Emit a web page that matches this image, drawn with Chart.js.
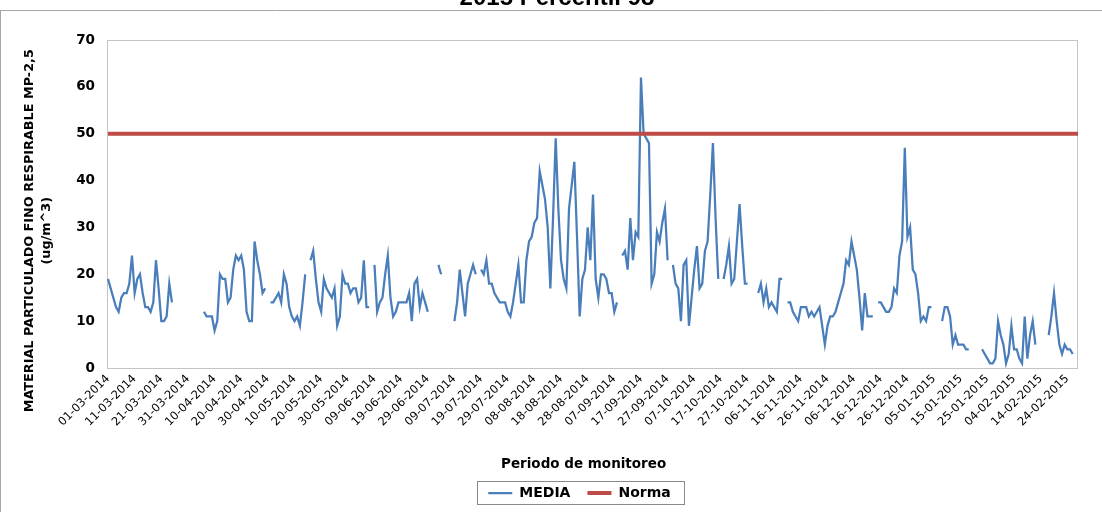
<!DOCTYPE html>
<html>
<head>
<meta charset="utf-8">
<script src="https://cdn.jsdelivr.net/npm/chart.js@4.4.1/dist/chart.umd.min.js"></script>
<style>
html, body { margin: 0; padding: 0; background: #ffffff; }
#wrap { position: relative; width: 1102px; height: 512px; overflow: hidden; background: #ffffff; }
#c { position: absolute; left: 0; top: -16px; }
</style>
</head>
<body>
<div id="wrap"><canvas id="c" width="1102" height="528"></canvas></div>
<script>
// ---- Data ----
const chartTitle = '2015 Percentil 98';
const firstDay = { year: 2014, month: 3, day: 1 };
const dayCount = 365;

// tick labels shown on the x axis (every 10th day)
const tickLabels = [
  '01-03-2014','11-03-2014','21-03-2014','31-03-2014','10-04-2014','20-04-2014','30-04-2014',
  '10-05-2014','20-05-2014','30-05-2014','09-06-2014','19-06-2014','29-06-2014','09-07-2014',
  '19-07-2014','29-07-2014','08-08-2014','18-08-2014','28-08-2014','07-09-2014','17-09-2014',
  '27-09-2014','07-10-2014','17-10-2014','27-10-2014','06-11-2014','16-11-2014','26-11-2014',
  '06-12-2014','16-12-2014','26-12-2014','05-01-2015','15-01-2015','25-01-2015','04-02-2015',
  '14-02-2015','24-02-2015'
];

// daily MEDIA values (null = no measurement), one row per 10 days
const media = [
  19,17,15,13,12,15,16,16,18,24,
  16,19,20,16,13,13,12,14,23,17,
  10,10,11,18,14,null,null,null,null,null,
  null,null,null,null,null,null,12,11,11,11,
  8,10,20,19,19,14,15,21,24,23,
  24,21,12,10,10,27,23,20,16,17,
  null,14,14,15,16,14,20,18,13,11,
  10,11,9,14,20,null,23,25,19,14,
  12,19,17,16,15,17,9,11,20,18,
  18,16,17,17,14,15,23,13,13,null,
  22,12,14,15,20,24,15,11,12,14,
  14,14,14,16,10,18,19,13,16,14,
  12,null,null,null,22,20,null,null,null,null,
  10,14,21,16,11,18,20,22,20,null,
  21,20,23,18,18,16,15,14,14,14,
  12,11,14,18,22,14,14,23,27,28,
  31,32,42,39,36,30,17,32,49,34,
  23,19,17,34,39,44,28,11,19,21,
  30,23,37,19,15,20,20,19,16,16,
  12,14,null,24,25,21,32,23,29,28,
  62,50,49,48,18,20,29,27,31,34,
  23,null,22,18,17,10,22,23,9,15,
  21,26,17,18,25,27,37,48,32,19,
  null,19,22,26,18,19,27,35,26,18,
  18,null,null,null,16,18,14,17,13,14,
  13,12,19,19,null,14,14,12,11,10,
  13,13,13,11,12,11,12,13,9,5,
  9,11,11,12,14,16,18,23,22,27,
  24,21,15,8,16,11,11,11,null,14,
  14,13,12,12,13,17,16,24,27,47,
  28,30,21,20,16,10,11,10,13,13,
  null,null,null,10,13,13,11,5,7,5,
  5,5,4,4,null,null,null,null,4,3,
  2,1,1,2,10,7,5,1,3,9,
  4,4,2,1,11,2,7,10,5,null,
  null,null,null,7,11,16,10,5,3,5,
  4,4,3,null,null
];

const normaValue = 50;

const yTitle = ['MATERIAL PARTICULADO FINO RESPIRABLE MP-2,5            ', '(ug/m^3)            '];
const xTitle = 'Periodo de monitoreo    ';

// ---- category labels: one per calendar day ----
function pad2(n) { return (n < 10 ? '0' : '') + n; }
const dates = [];
for (let i = 0; i < dayCount; i++) {
  const d = new Date(Date.UTC(firstDay.year, firstDay.month - 1, firstDay.day + i));
  dates.push(pad2(d.getUTCDate()) + '-' + pad2(d.getUTCMonth() + 1) + '-' + d.getUTCFullYear());
}

const FONT = "'DejaVu Sans', Verdana, sans-serif";
const SHIFT_Y = 16; // canvas is drawn 16px above the visible window

const framePlugin = {
  id: 'frames',
  afterLayout(chart) {
    const lg = chart.legend;
    if (lg) { lg.left += 33.5; lg.right += 33.5; lg.top -= 2; lg.bottom -= 2; }
    const tb = chart.titleBlock;
    if (tb) { tb.left += 11; tb.right += 11; }
  },
  beforeDraw(chart) {
    const ctx = chart.ctx;
    ctx.save();
    ctx.strokeStyle = '#a6a6a6';
    ctx.lineWidth = 1;
    ctx.beginPath();
    ctx.moveTo(0, SHIFT_Y + 10.5);
    ctx.lineTo(chart.width, SHIFT_Y + 10.5);
    ctx.moveTo(0.5, SHIFT_Y + 10);
    ctx.lineTo(0.5, chart.height);
    ctx.stroke();
    ctx.restore();
  },
  beforeDatasetsDraw(chart) {
    const {ctx, chartArea: a} = chart;
    ctx.save();
    ctx.strokeStyle = '#c4c4c4';
    ctx.lineWidth = 1;
    ctx.strokeRect(Math.round(a.left) - 0.5, Math.round(a.top) + 0.5, Math.round(a.right - a.left), Math.round(a.bottom - a.top));
    ctx.restore();
  },
  afterDraw(chart) {
    const lg = chart.legend;
    if (!lg || !lg.legendHitBoxes || !lg.legendHitBoxes.length) return;
    const hb = lg.legendHitBoxes;
    let l = Infinity, r = -Infinity, cy = 0;
    hb.forEach(h => { l = Math.min(l, h.left); r = Math.max(r, h.left + h.width); cy = h.top + h.height / 2; });
    const ctx = chart.ctx;
    ctx.save();
    ctx.strokeStyle = '#8a8a8a';
    ctx.lineWidth = 1;
    ctx.strokeRect(Math.round(l - 11) + 0.5, Math.round(cy - 12) + 0.5, Math.round(r - l + 25), 23);
    ctx.restore();
  }
};

new Chart(document.getElementById('c'), {
  type: 'line',
  data: {
    labels: dates,
    datasets: [
      {
        label: 'MEDIA',
        data: media,
        borderColor: '#4a7ebb',
        backgroundColor: '#4a7ebb',
        borderWidth: 2.25,
        pointBorderWidth: 2.25,
        pointRadius: 0,
        tension: 0,
        spanGaps: false,
        order: 1
      },
      {
        label: 'Norma',
        data: [{ x: dates[0], y: normaValue }, { x: dates[dates.length - 1], y: normaValue }],
        borderColor: '#be4b48',
        backgroundColor: '#be4b48',
        borderWidth: 4,
        pointBorderWidth: 4,
        pointRadius: 0,
        tension: 0,
        order: 0
      }
    ]
  },
  options: {
    responsive: false,
    animation: false,
    devicePixelRatio: 1,
    layout: { padding: { left: 14, right: 24, top: 0, bottom: 0 } },
    plugins: {
      title: {
        display: true,
        text: chartTitle,
        color: '#000000',
        font: { family: "'Liberation Sans', Arial, sans-serif", size: 24, weight: 'bold' },
        padding: { top: 0, bottom: 27.2 }
      },
      legend: {
        position: 'bottom',
        labels: {
          usePointStyle: true,
          pointStyle: 'line',
          pointStyleWidth: 24,
          padding: 17,
          color: '#000000',
          font: { family: FONT, size: 14, weight: 'bold' },
          sort: (a, b) => a.datasetIndex - b.datasetIndex
        }
      },
      tooltip: { enabled: false }
    },
    scales: {
      x: {
        type: 'category',
        grid: { display: false, drawTicks: false },
        border: { display: false },
        ticks: {
          autoSkip: false,
          minRotation: 45,
          maxRotation: 45,
          padding: 4,
          color: '#000000',
          font: { family: FONT, size: 11.5 }
        },
        afterBuildTicks: s => { s.ticks = s.ticks.filter(t => tickLabels.includes(dates[t.value])); },
        afterFit: s => { s.height = 103; },
        title: {
          display: true,
          text: xTitle,
          color: '#000000',
          font: { family: FONT, size: 13.5, weight: 'bold' },
          padding: { top: 0, bottom: -2 }
        }
      },
      y: {
        min: 0,
        max: 70,
        grid: { display: false, drawTicks: false },
        border: { display: false },
        ticks: {
          stepSize: 10,
          padding: 13,
          color: '#000000',
          font: { family: FONT, size: 13.5, weight: 'bold' }
        },
        afterFit: s => { s.width = 94; },
        title: {
          display: true,
          text: yTitle,
          color: '#000000',
          font: { family: FONT, size: 12.8, weight: 'bold', lineHeight: '17px' },
          padding: { top: 7.5, bottom: 0 }
        }
      }
    }
  },
  plugins: [framePlugin]
});
</script>
</body>
</html>
